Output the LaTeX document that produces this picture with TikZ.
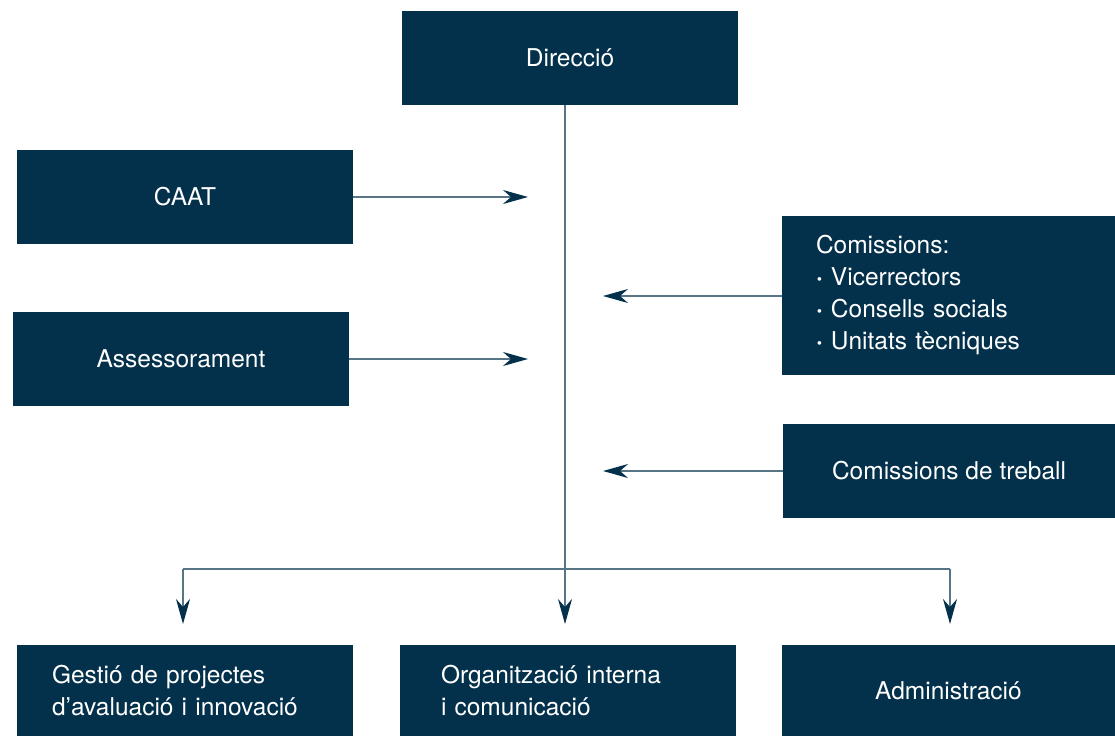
\documentclass[tikz,border=0pt]{standalone}
\usepackage{fontspec}
\setmainfont{TeX Gyre Heros}
\usetikzlibrary{arrows.meta}
\definecolor{navy}{HTML}{03304A}
\definecolor{linegrey}{HTML}{587585}
\newcommand{\bul}{\textbf{·}\ }

\begin{document}
\begin{tikzpicture}[x=1pt, y=-1pt,
	box/.style={fill=navy, text=white, inner sep=0pt, minimum width=336pt, minimum height=94pt, font=\fontsize{24.5}{32}\selectfont},
	conn/.style={linegrey, line width=1.3pt, -{Stealth[navy, length=25pt, width=14pt, inset=8pt]}}]
\useasboundingbox (0,0) rectangle (1115,736);

\node[box] (dir) at (570,58) {Direcció};
\node[box] (caat) at (185,197) {CAAT};
\node[box] (ases) at (181,359) {Assessorament};
\node[box, minimum width=333pt, minimum height=159pt, align=left, text width=265pt, inner xsep=34pt] (com) at (948.5,295.5) {Comissions:\\\bul Vicerrectors\\\bul Consells socials\\\bul Unitats tècniques};
\node[box, minimum width=332pt] (treb) at (949,471) {Comissions de treball};

\node[box, minimum height=91pt, align=left, text width=266pt, inner xsep=35pt] (gest) at (185,690.5) {Gestió de projectes\\d’avaluació i innovació};
\node[box, minimum height=91pt, align=left, text width=254pt, inner xsep=41pt] (org) at (568,690.5) {Organització interna\\i comunicació};
\node[box, minimum width=333pt, minimum height=91pt] (adm) at (948.5,690.5) {Administració};

\coordinate (top) at (565,105);
\coordinate (mid) at (565,569);
\coordinate (leftend) at (183,569);
\coordinate (rightend) at (950,569);
\coordinate (caatend) at (528,197);
\coordinate (asesend) at (528,359);
\coordinate (comend) at (603,296);
\coordinate (trebend) at (603,471);

\draw[conn] (top) -- (565,624);
\draw[linegrey, line width=1.3pt] (leftend) -- (rightend);
\draw[conn] (leftend) -- (183,624);
\draw[conn] (rightend) -- (950,624);

\draw[conn] (caat.east) -- (caatend);
\draw[conn] (ases.east) -- (asesend);
\draw[conn] (com.west |- comend) -- (comend);
\draw[conn] (treb.west) -- (trebend);

\end{tikzpicture}
\end{document}
